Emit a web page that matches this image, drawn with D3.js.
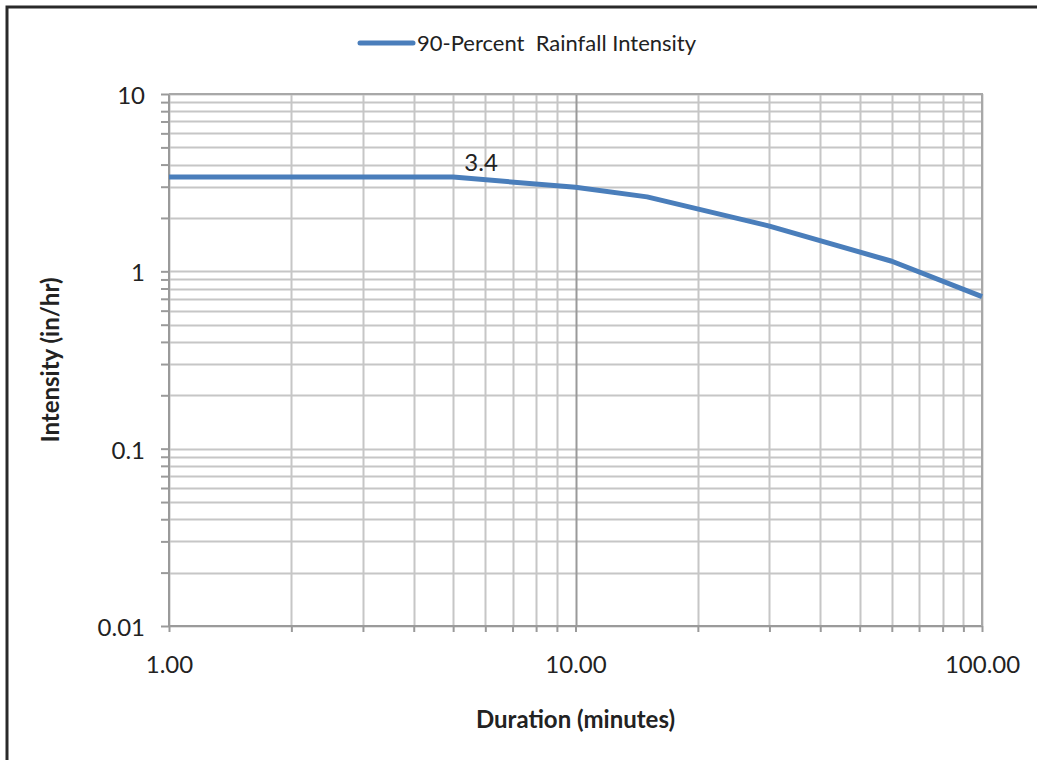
<!DOCTYPE html>
<html>
<head>
<meta charset="utf-8">
<script src="https://cdnjs.cloudflare.com/ajax/libs/d3/7.8.5/d3.min.js"></script>
<style>
  body { margin: 0; background: #fff; }
  text { font-family: Lato, "Open Sans", sans-serif; fill: #222; }
</style>
</head>
<body>
<svg id="chart"></svg>
<script>
// data
var durations   = [1, 5, 10, 15, 30, 60, 100],           // minutes
    intensities = [3.4, 3.4, 2.98, 2.63, 1.8, 1.14, 0.72], // in/hr
    seriesName  = "90-Percent  Rainfall Intensity",
    xTicks      = [1, 10, 100],
    yTicks      = [0.01, 0.1, 1, 10];

var width  = 1037,
    height = 760,
    margin = {left: 169, top: 94, right: 1037 - 982, bottom: 760 - 626},
    blue   = "#4a7ebb";

var svg = d3.select("#chart").attr("width", width).attr("height", height);

// outer frame (left + top edges visible)
svg.append("path")
   .attr("d", "M7," + height + "V7H" + (width + 5))
   .attr("fill", "none").attr("stroke", "#2a2a2a").attr("stroke-width", 3);

var x = d3.scaleLog().domain([1, 100]).range([margin.left, width - margin.right]);
var y = d3.scaleLog().domain([0.01, 10]).range([height - margin.bottom, margin.top]);

// minor + major grid values
var xGrid = d3.range(1, 101).filter(function(v) { return v <= 10 ? true : v % 10 === 0; });
var yGrid = [];
[0.01, 0.1, 1].forEach(function(d) { for (var k = 1; k < 10; k++) yGrid.push(+(d * k).toFixed(3)); });
yGrid.push(10);

var grid = svg.append("g");
grid.selectAll(".hg").data(yGrid).enter().append("line")
    .attr("x1", x(1)).attr("x2", x(100))
    .attr("y1", function(d) { return Math.round(y(d)) + 0.5; })
    .attr("y2", function(d) { return Math.round(y(d)) + 0.5; })
    .attr("stroke", "#c6c6c6").attr("stroke-width", 2);
grid.selectAll(".vg").data(xGrid).enter().append("line")
    .attr("y1", y(0.01)).attr("y2", y(10))
    .attr("x1", function(d) { return Math.round(x(d)) + 0.5; })
    .attr("x2", function(d) { return Math.round(x(d)) + 0.5; })
    .attr("stroke", function(d) { return d === 10 ? "#9a9a9a" : "#c6c6c6"; })
    .attr("stroke-width", 2);

// axes with tick marks at every grid value
var yAxis = d3.axisLeft(y).tickValues(yGrid).tickSize(8).tickFormat(function(d) {
  return yTicks.indexOf(d) >= 0 ? d3.format("")(d) : "";
});
var xAxis = d3.axisBottom(x).tickValues(xGrid).tickSize(6).tickFormat(function(d) {
  return xTicks.indexOf(d) >= 0 ? d3.format(".2f")(d) : "";
});

var gy = svg.append("g").attr("transform", "translate(" + x(1) + ",0)").call(yAxis);
var gx = svg.append("g").attr("transform", "translate(0," + y(0.01) + ")").call(xAxis);
[gx, gy].forEach(function(g) {
  g.selectAll("path, line").attr("stroke", "#9a9a9a").attr("stroke-width", 2);
  g.selectAll("text").style("font-size", "24px").attr("fill", "#222");
});
gy.selectAll("text").attr("x", -24).attr("dy", "0.4em");
gx.selectAll("text").attr("y", 30);
gy.select(".domain").attr("d", "M0," + y(0.01) + "V" + y(10));
gx.select(".domain").attr("d", "M" + x(1) + ",0H" + x(100));

// plot border top/right
svg.append("path")
   .attr("d", "M" + x(1) + "," + y(10) + "H" + x(100) + "V" + y(0.01))
   .attr("fill", "none").attr("stroke", "#a8a8a8").attr("stroke-width", 2);

// series line
var line = d3.line().x(function(d, i) { return x(durations[i]); }).y(function(d) { return y(d); });
svg.append("path").datum(intensities)
   .attr("d", line)
   .attr("fill", "none").attr("stroke", blue).attr("stroke-width", 5)
   .attr("stroke-linejoin", "round");

// data label
svg.append("text")
   .attr("x", x(durations[1]) + 28).attr("y", y(intensities[1]) - 6)
   .attr("text-anchor", "middle").style("font-size", "24px")
   .text(intensities[1]);

// axis titles
svg.append("text")
   .attr("x", (x(1) + x(100)) / 2).attr("y", 728)
   .attr("text-anchor", "middle").style("font-size", "24px").style("font-weight", "bold")
   .text("Duration (minutes)");
svg.append("text")
   .attr("transform", "translate(59," + (y(10) + y(0.01)) / 2 + ") rotate(-90)")
   .attr("text-anchor", "middle").style("font-size", "24px").style("font-weight", "bold")
   .text("Intensity (in/hr)");

// legend
var lg = svg.append("g").attr("transform", "translate(360,43)");
lg.append("line").attr("x1", 0).attr("x2", 53).attr("y1", 0).attr("y2", 0)
  .attr("stroke", blue).attr("stroke-width", 5).attr("stroke-linecap", "round");
lg.append("text").attr("x", 57).attr("dy", "0.35em").style("font-size", "22px")
  .style("white-space", "pre").text(seriesName);
</script>
</body>
</html>
